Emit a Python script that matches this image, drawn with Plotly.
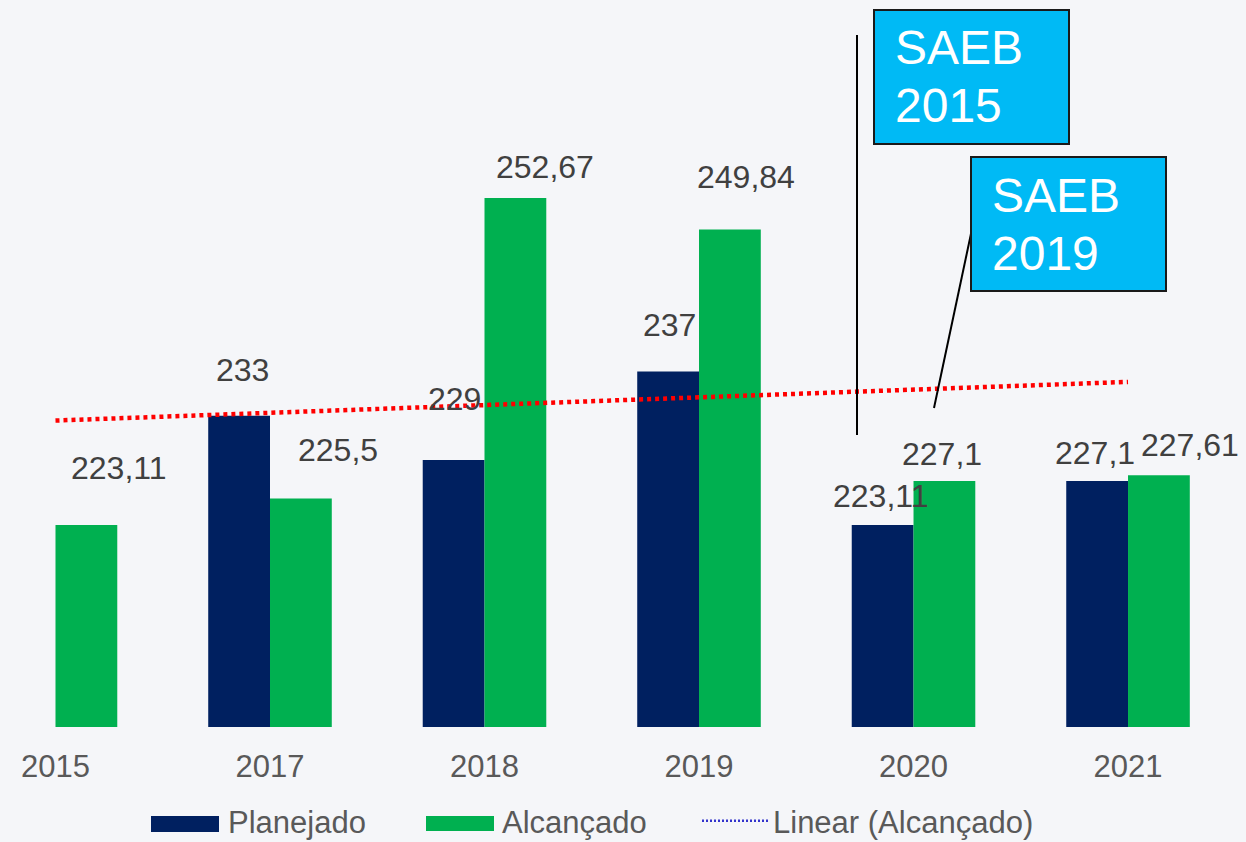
import numpy as np
import plotly.graph_objects as go

# ---- data ----
years = ["2015", "2017", "2018", "2019", "2020", "2021"]
planejado = [None, 233, 229, 237, 223.11, 227.1]
alcancado = [223.11, 225.5, 252.67, 249.84, 227.1, 227.61]
plan_labels = [None, "233", "229", "237", "223,11", "227,1"]
alc_labels = ["223,11", "225,5", "252,67", "249,84", "227,1", "227,61"]

# label offsets (px) relative to bar top centre
plan_shift = [(0, 0), (3, 46), (1, 61), (1, 46), (-2, 29), (-2, 28)]
alc_shift = [(33, 57), (37, 49), (30, 31), (16, 52), (-2, 27), (31, 30)]

W, H = 1246, 842
BASE_PX = 727  # bottom of plot area in px
NAVY = "#002060"
GREEN = "#00b050"
BOX = "#00baf5"
FONT = "Liberation Sans, Arial, sans-serif"

idx = list(range(len(years)))
bw = 0.288

fig = go.Figure()
fig.add_trace(go.Bar(x=idx, y=planejado, width=bw, offset=-bw, marker_color=NAVY,
                     marker_line_width=0, showlegend=False, name="Planejado"))
fig.add_trace(go.Bar(x=idx, y=alcancado, width=bw, offset=0, marker_color=GREEN,
                     marker_line_width=0, showlegend=False, name="Alcançado"))

# linear trend of Alcançado
coef = np.polyfit(idx, alcancado, 1)
xt = [idx[0], idx[-1]]
yt = [coef[0] * x + coef[1] for x in xt]
fig.add_trace(go.Scatter(x=xt, y=yt, mode="lines", showlegend=False,
                         line=dict(color="#ff0000", width=4.5, dash="4px,4px")))

# legend entries (one legend each so they can be placed exactly);
# the wide bar swatches are drawn as shapes below
fig.add_trace(go.Scatter(x=[None], y=[None], mode="lines", name="Planejado", legend="legend",
                         line=dict(color="rgba(0,0,0,0)", width=1)))
fig.add_trace(go.Scatter(x=[None], y=[None], mode="lines", name="Alcançado", legend="legend2",
                         line=dict(color="rgba(0,0,0,0)", width=1)))
fig.add_trace(go.Scatter(x=[None], y=[None], mode="lines", name="Linear (Alcançado)",
                         legend="legend3", line=dict(color="#3333cc", width=2.5, dash="2px,2px")))

ann = []
for i in idx:
    if planejado[i] is not None:
        dx, dy = plan_shift[i]
        ann.append(dict(x=i - bw / 2, y=planejado[i], text=plan_labels[i], showarrow=False,
                        xshift=dx, yshift=dy, xanchor="center", yanchor="middle",
                        font=dict(size=32, color="#404040", family=FONT)))
    dx, dy = alc_shift[i]
    ann.append(dict(x=i + bw / 2, y=alcancado[i], text=alc_labels[i], showarrow=False,
                    xshift=dx, yshift=dy, xanchor="center", yanchor="middle",
                    font=dict(size=32, color="#404040", family=FONT)))


def px(x):
    return x / W


def py(y):
    return (BASE_PX - y) / BASE_PX


shapes = [
    dict(type="line", xref="paper", yref="paper", x0=px(857), x1=px(857), y0=py(35), y1=py(435),
         line=dict(color="black", width=2)),
    dict(type="line", xref="paper", yref="paper", x0=px(972), x1=px(934), y0=py(229), y1=py(408),
         line=dict(color="black", width=2)),
    dict(type="rect", xref="paper", yref="paper", x0=px(874), x1=px(1069), y0=py(10), y1=py(144),
         fillcolor=BOX, line=dict(color="#1a1a1a", width=2)),
    dict(type="rect", xref="paper", yref="paper", x0=px(971), x1=px(1166), y0=py(157), y1=py(291),
         fillcolor=BOX, line=dict(color="#1a1a1a", width=2)),
    # legend swatches
    dict(type="rect", xref="paper", yref="paper", x0=px(151), x1=px(219), y0=py(816), y1=py(832),
         fillcolor=NAVY, line=dict(width=0)),
    dict(type="rect", xref="paper", yref="paper", x0=px(426), x1=px(494), y0=py(816), y1=py(831),
         fillcolor=GREEN, line=dict(width=0)),
]
for txt, x, y in [("SAEB", 893, 48), ("2015", 893, 106), ("SAEB", 990, 195), ("2019", 990, 254)]:
    ann.append(dict(xref="paper", yref="paper", x=px(x), y=py(y), text=txt, showarrow=False,
                    xanchor="left", yanchor="middle",
                    font=dict(size=48, color="white", family=FONT)))

leg_common = dict(orientation="h", xanchor="left", y=py(821), yanchor="middle",
                  font=dict(size=31, color="#595959", family=FONT), itemwidth=66,
                  bgcolor="rgba(0,0,0,0)")

fig.update_layout(
    width=W, height=H,
    margin=dict(l=0, r=0, t=0, b=H - BASE_PX, pad=0, autoexpand=False),
    paper_bgcolor="#f5f6f9", plot_bgcolor="rgba(0,0,0,0)",
    barmode="overlay",
    xaxis=dict(range=[-0.2587, 5.550], tickvals=idx, ticktext=years, showgrid=False,
               zeroline=False, showline=False, ticks="", ticklabelstandoff=18,
               automargin=False,
               tickfont=dict(size=31, color="#595959", family=FONT)),
    yaxis=dict(range=[204.85, 270.58], visible=False, showgrid=False, zeroline=False,
               automargin=False),
    legend=dict(x=px(152), **leg_common),
    legend2=dict(x=px(426), **leg_common),
    legend3=dict(x=px(697), **leg_common),
    shapes=shapes,
    annotations=ann,
)

fig.write_html("out.html", config={"displayModeBar": False})

# remove default page margin so the figure fills the window exactly
with open("out.html", "r", encoding="utf-8") as f:
    html = f.read()
html = html.replace("<head>", "<head><style>html,body{margin:0;padding:0;overflow:hidden;}</style>", 1)
with open("out.html", "w", encoding="utf-8") as f:
    f.write(html)
